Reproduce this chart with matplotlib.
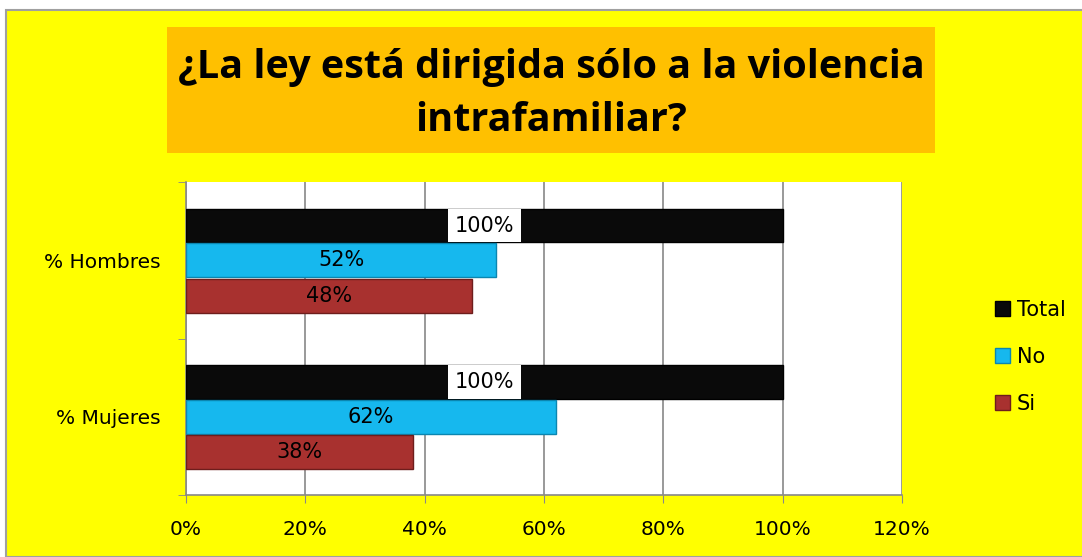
import matplotlib.pyplot as plt
from matplotlib.patches import Rectangle

categories = ["% Mujeres", "% Hombres"]
series_names = ["Si", "No", "Total"]
si_vals = [38, 48]
no_vals = [62, 52]
total_vals = [100, 100]
x_ticks = [0, 20, 40, 60, 80, 100, 120]

colors = {"Total": "#0a0a0a", "No": "#16b8ee", "Si": "#a8312f"}
edges = {"Total": "#000000", "No": "#0b86b0", "Si": "#6e1d1c"}

W, H = 1082, 557
fig = plt.figure(figsize=(W / 100, H / 100), dpi=100)
fig.patch.set_facecolor("white")

# yellow chart area with gray border
fig.patches.append(Rectangle((6 / W, 0), 1.2, 1 - 10 / H, transform=fig.transFigure,
                             facecolor="#ffff00", edgecolor="#a0a0a0", lw=1.5, zorder=-2))
# orange title box
fig.patches.append(Rectangle((167 / W, 1 - 153 / H), (935 - 167) / W, (153 - 27) / H,
                             transform=fig.transFigure, facecolor="#ffc000",
                             edgecolor="none", zorder=-1))
fig.text(551 / W, 1 - 94 / H, "¿La ley está dirigida sólo a la violencia\nintrafamiliar?",
         ha="center", va="center", fontsize=28.5, fontweight="bold",
         family="Open Sans", linespacing=1.45, zorder=2)

ax = fig.add_axes([186 / W, 1 - 495 / H, (902 - 186) / W, (495 - 182) / H])
ax.set_facecolor("white")

ypos = list(range(len(categories)))
bh = 0.217
offs = {"Total": bh + 0.005, "No": 0, "Si": -(bh + 0.01)}
vals = {"Total": total_vals, "No": no_vals, "Si": si_vals}

for name in ["Total", "No", "Si"]:
    ys = [y + offs[name] for y in ypos]
    bars = ax.barh(ys, vals[name], height=bh, color=colors[name],
                   edgecolor=edges[name], lw=1, label=name, zorder=3)
    for b, v in zip(bars, vals[name]):
        cy = b.get_y() + b.get_height() / 2
        if name == "Total":
            ax.text(v / 2, cy, f"{v}%", ha="center", va="center", fontsize=15,
                    zorder=5, bbox=dict(facecolor="white", edgecolor="none", pad=5))
        else:
            ax.text(v / 2, cy, f"{v}%", ha="center", va="center", fontsize=15, zorder=5)

ax.set_xlim(0, 120)
ax.set_ylim(-0.5, 1.5)
ax.set_xticks(x_ticks)
ax.set_xticklabels([f"{t}%" for t in x_ticks], fontsize=14.5)
ax.set_yticks(ypos)
ax.set_yticklabels(categories, fontsize=14.5)
ax.tick_params(axis="y", length=0, pad=18)
ax.set_yticks([-0.5, 0.5, 1.5], minor=True)
ax.tick_params(axis="y", which="minor", length=6, color="#888888")
ax.tick_params(axis="x", length=6, color="#888888", pad=12)
ax.grid(axis="x", color="#888888", lw=1.2, zorder=0)
for s in ["top", "right"]:
    ax.spines[s].set_visible(False)
for s in ["left", "bottom"]:
    ax.spines[s].set_color("#888888")
    ax.spines[s].set_linewidth(1.2)

h, l = ax.get_legend_handles_labels()
fig.legend(h, l, loc="center left", bbox_to_anchor=(976 / W, 1 - 357 / H),
           frameon=False, fontsize=15, handlelength=0.75, handleheight=0.75,
           handletextpad=0.3, labelspacing=1.3)

fig.savefig("out.png", dpi=100)
